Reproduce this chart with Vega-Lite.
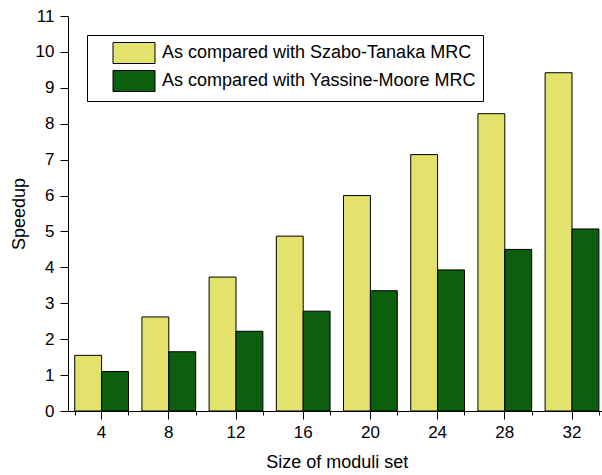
{
  "$schema": "https://vega.github.io/schema/vega-lite/v6.json",
  "width": 534,
  "height": 395,
  "autosize": {"type": "none"},
  "padding": {"left": 68, "top": 16, "right": 0, "bottom": 64},
  "background": "white",
  "config": {
    "view": {"stroke": null},
    "font": "Liberation Sans",
    "axis": {
      "grid": false,
      "domainColor": "black",
      "tickColor": "black",
      "labelColor": "black",
      "titleColor": "black",
      "labelFont": "Liberation Sans",
      "titleFont": "Liberation Sans",
      "titleFontWeight": "normal",
      "labelFontSize": 17,
      "titleFontSize": 18,
      "domainWidth": 1,
      "tickWidth": 1
    }
  },
  "data": {
    "values": [
      {"size": 4, "series": "As compared with Szabo-Tanaka MRC", "speedup": 1.55},
      {"size": 4, "series": "As compared with Yassine-Moore MRC", "speedup": 1.1},
      {"size": 8, "series": "As compared with Szabo-Tanaka MRC", "speedup": 2.62},
      {"size": 8, "series": "As compared with Yassine-Moore MRC", "speedup": 1.65},
      {"size": 12, "series": "As compared with Szabo-Tanaka MRC", "speedup": 3.73},
      {"size": 12, "series": "As compared with Yassine-Moore MRC", "speedup": 2.22},
      {"size": 16, "series": "As compared with Szabo-Tanaka MRC", "speedup": 4.87},
      {"size": 16, "series": "As compared with Yassine-Moore MRC", "speedup": 2.78},
      {"size": 20, "series": "As compared with Szabo-Tanaka MRC", "speedup": 6.0},
      {"size": 20, "series": "As compared with Yassine-Moore MRC", "speedup": 3.35},
      {"size": 24, "series": "As compared with Szabo-Tanaka MRC", "speedup": 7.14},
      {"size": 24, "series": "As compared with Yassine-Moore MRC", "speedup": 3.93},
      {"size": 28, "series": "As compared with Szabo-Tanaka MRC", "speedup": 8.28},
      {"size": 28, "series": "As compared with Yassine-Moore MRC", "speedup": 4.5},
      {"size": 32, "series": "As compared with Szabo-Tanaka MRC", "speedup": 9.42},
      {"size": 32, "series": "As compared with Yassine-Moore MRC", "speedup": 5.07}
    ]
  },
  "layer": [
    {
      "mark": {"type": "bar", "stroke": "black", "strokeWidth": 1},
      "encoding": {
        "x": {
          "field": "size",
          "type": "ordinal",
          "sort": "ascending",
          "scale": {"range": [0, 537.6], "paddingInner": 0.2, "paddingOuter": 0.1},
          "axis": {
            "orient": "bottom",
            "title": "Size of moduli set",
            "labelAngle": 0,
            "tickSize": 8,
            "labelPadding": 5,
            "titlePadding": 13
          }
        },
        "xOffset": {
          "field": "series",
          "type": "nominal",
          "sort": ["As compared with Szabo-Tanaka MRC", "As compared with Yassine-Moore MRC"],
          "scale": {"paddingInner": 0, "paddingOuter": 0}
        },
        "y": {
          "field": "speedup",
          "type": "quantitative",
          "scale": {"domain": [0, 11], "nice": false, "zero": true},
          "axis": {
            "title": "Speedup",
            "values": [0, 0.5, 1, 1.5, 2, 2.5, 3, 3.5, 4, 4.5, 5, 5.5, 6, 6.5, 7, 7.5, 8, 8.5, 9, 9.5, 10, 10.5, 11],
            "format": "d",
            "labelExpr": "datum.value % 1 === 0 ? format(datum.value, 'd') : ''",
            "tickSize": {"condition": {"test": "datum.value % 1 === 0", "value": 8}, "value": 5},
            "labelPadding": 6,
            "titlePadding": 7
          }
        },
        "color": {
          "field": "series",
          "type": "nominal",
          "scale": {
            "domain": ["As compared with Szabo-Tanaka MRC", "As compared with Yassine-Moore MRC"],
            "range": ["#e2e26c", "#0c5f0c"]
          },
          "legend": {
            "title": null,
            "orient": "none",
            "legendX": 19,
            "legendY": 19,
            "direction": "vertical",
            "fillColor": "white",
            "strokeColor": "black",
            "padding": 7,
            "symbolType": "M-2,-1L2,-1L2,1L-2,1Z",
            "symbolSize": 441,
            "symbolStrokeColor": "black",
            "symbolStrokeWidth": 1,
            "symbolOpacity": 1,
            "symbolOffset": 29,
            "labelOffset": 17,
            "rowPadding": 2,
            "labelFontSize": 18,
            "labelFont": "Liberation Sans",
            "labelColor": "black",
            "labelLimit": 0
          }
        }
      }
    },
    {
      "mark": {"type": "point", "opacity": 0},
      "encoding": {
        "x": {
          "field": "size",
          "type": "ordinal",
          "sort": "ascending",
          "axis": {
            "orient": "bottom",
            "title": null,
            "labels": false,
            "domain": false,
            "tickBand": "extent",
            "tickSize": 4
          }
        }
      }
    }
  ],
  "resolve": {"axis": {"x": "independent"}}
}
